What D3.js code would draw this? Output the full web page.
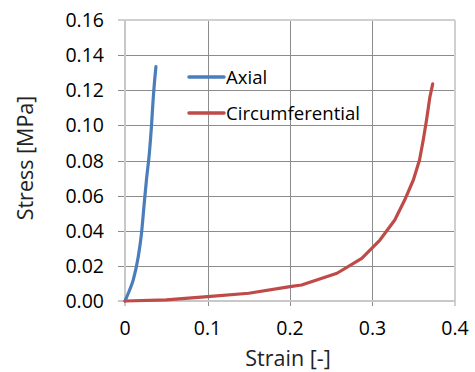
<!DOCTYPE html>
<html><head><meta charset="utf-8">
<script src="https://cdn.jsdelivr.net/npm/d3@7"></script>
<style>body{margin:0;background:#fff;} svg{display:block;} text{font-family:"Open Sans",sans-serif;}</style>
</head><body>
<div id="chart"></div>
<script>
const xTicks = [0, 0.1, 0.2, 0.3, 0.4];
const xTickLabels = ["0", "0.1", "0.2", "0.3", "0.4"];
const yTicks = [0, 0.02, 0.04, 0.06, 0.08, 0.10, 0.12, 0.14, 0.16];
const yTickLabels = ["0.00","0.02","0.04","0.06","0.08","0.10","0.12","0.14","0.16"];
const seriesNames = ["Axial", "Circumferential"];
const axialStrain = [0, 0.004, 0.010, 0.016, 0.020, 0.023, 0.026, 0.0295, 0.032, 0.034, 0.036, 0.0375];
const axialStress = [0, 0.0044, 0.012, 0.025, 0.0385, 0.054, 0.069, 0.084, 0.099, 0.114, 0.126, 0.1335];
const circStrain = [0, 0.05, 0.10, 0.15, 0.20, 0.214, 0.257, 0.287, 0.309, 0.327, 0.339, 0.3495, 0.357, 0.3615, 0.3655, 0.3695, 0.373];
const circStress = [0, 0.0006, 0.0025, 0.0044, 0.0082, 0.0091, 0.0158, 0.0243, 0.0347, 0.0461, 0.0575, 0.0689, 0.0803, 0.0917, 0.103, 0.116, 0.1236];
const colors = ["#4A7EBB", "#BE4B48"];

const W = 475, H = 372;
const m = {left:125, right:20, top:20, bottom:71};
const svg = d3.select("#chart").append("svg").attr("width", W).attr("height", H);
const x = d3.scaleLinear().domain([0, 0.4]).range([m.left, W - m.right]);
const y = d3.scaleLinear().domain([0, 0.16]).range([H - m.bottom, m.top]);

// grid
const g = svg.append("g");
g.selectAll(".hg").data(yTicks.slice(1, -1)).join("line")
  .attr("x1", m.left - 7).attr("x2", W - m.right)
  .attr("y1", d => Math.round(y(d)) + 0.5).attr("y2", d => Math.round(y(d)) + 0.5)
  .attr("stroke", "#8c8c8c").attr("stroke-width", 1);
g.selectAll(".vg").data(xTicks.slice(1, -1)).join("line")
  .attr("y1", m.top).attr("y2", y(0) + 5)
  .attr("x1", d => Math.round(x(d)) + 0.5).attr("x2", d => Math.round(x(d)) + 0.5)
  .attr("stroke", "#8c8c8c").attr("stroke-width", 1);
// borders (light)
g.append("line").attr("x1", m.left - 7).attr("x2", W - m.right).attr("y1", y(0.16)).attr("y2", y(0.16)).attr("stroke", "#d0d0d0").attr("stroke-width", 2);
g.append("line").attr("x1", x(0.4)).attr("x2", x(0.4)).attr("y1", m.top).attr("y2", y(0) + 5).attr("stroke", "#d0d0d0").attr("stroke-width", 2);
g.append("line").attr("x1", x(0)).attr("x2", x(0)).attr("y1", m.top).attr("y2", y(0) + 5).attr("stroke", "#c8c8c8").attr("stroke-width", 2);
g.append("line").attr("x1", m.left - 7).attr("x2", W - m.right).attr("y1", y(0)).attr("y2", y(0)).attr("stroke", "#c8c8c8").attr("stroke-width", 2);

// tick labels
svg.append("g").selectAll("text").data(yTicks).join("text")
  .attr("x", 104).attr("y", d => y(d)).attr("dy", "0.36em")
  .attr("text-anchor", "end").attr("font-size", 19.5).attr("fill", "#000")
  .text((d, i) => yTickLabels[i]);
svg.append("g").selectAll("text").data(xTicks).join("text")
  .attr("x", d => x(d)).attr("y", y(0) + 34)
  .attr("text-anchor", "middle").attr("font-size", 19.5).attr("fill", "#000")
  .text((d, i) => xTickLabels[i]);

// axis titles
svg.append("text").attr("x", x(0.2) - 2).attr("y", 366).attr("text-anchor", "middle")
  .attr("font-size", 21.5).attr("fill", "#222").text("Strain [-]");
svg.append("text").attr("transform", "translate(33," + 158 + ") rotate(-90)")
  .attr("text-anchor", "middle").attr("font-size", 21.5).attr("fill", "#222").text("Stress [MPa]");

// lines
const curves = [d3.curveMonotoneX, d3.curveLinear];
const series = [d3.zip(axialStrain, axialStress), d3.zip(circStrain, circStress)];
svg.append("g").selectAll("path").data(series).join("path")
  .attr("d", (d, i) => d3.line().curve(curves[i]).x(p => x(p[0])).y(p => y(p[1]))(d))
  .attr("fill", "none")
  .attr("stroke", (d, i) => colors[i]).attr("stroke-width", 3.2)
  .attr("stroke-linejoin", "round").attr("stroke-linecap", "round");

// legend
const leg = svg.append("g");
seriesNames.forEach((n, i) => {
  const ly = 77 + i * 36;
  leg.append("line").attr("x1", 189).attr("x2", 224).attr("y1", ly).attr("y2", ly)
    .attr("stroke", colors[i]).attr("stroke-width", 3.5).attr("stroke-linecap", "round");
  leg.append("text").attr("x", 226).attr("y", ly).attr("dy", "0.36em")
    .attr("font-size", 18.6).attr("fill", "#000").text(n);
});
</script>
</body></html>
